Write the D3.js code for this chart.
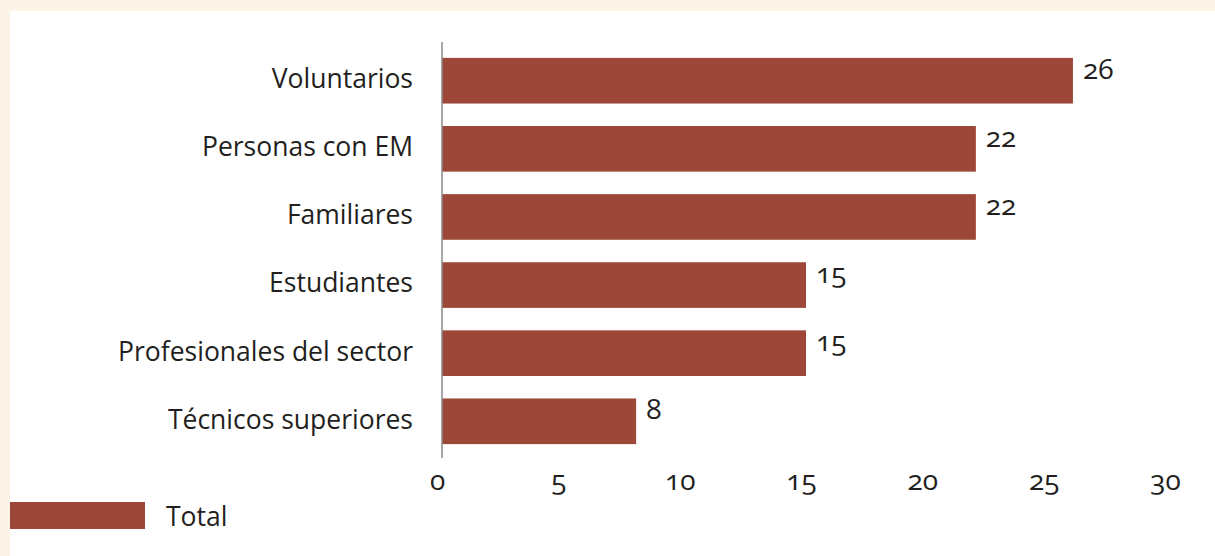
<!DOCTYPE html>
<html>
<head>
<meta charset="utf-8">
<script src="https://cdn.jsdelivr.net/npm/d3@7"></script>
<style>
  html, body { margin: 0; padding: 0; background: #fdf4e8; }
  svg { display: block; }
  .num { font-variant-numeric: oldstyle-nums; font-feature-settings: "onum" 1; }
</style>
</head>
<body>
<svg id="chart" width="1215" height="556"></svg>
<script>
// Participantes por perfil
const categories = ["Voluntarios", "Personas con EM", "Familiares", "Estudiantes", "Profesionales del sector", "Técnicos superiores"];
const values = [26, 22, 22, 15, 15, 8];
const tickValues = [0, 5, 10, 15, 20, 25, 30];
const seriesName = "Total";

const barColor = "#9c4738";
const textColor = "#231f20";
const font = "'Open Sans', sans-serif";

const svg = d3.select("#chart");

// panel
svg.append("rect").attr("x", 10).attr("y", 11).attr("width", 1205).attr("height", 545).attr("fill", "#ffffff");

const x = d3.scaleLinear().domain([0, 30]).range([442, 1170]);
const y = d3.scaleBand().domain(categories).range([47, 455]).paddingInner(0.33).paddingOuter(0.16);

// bars
svg.append("g").selectAll("rect").data(categories).join("rect")
  .attr("x", x(0))
  .attr("y", d => y(d))
  .attr("width", (d, i) => x(values[i]) - x(0))
  .attr("height", y.bandwidth())
  .attr("fill", barColor);

// category axis
const yAxis = svg.append("g").attr("transform", `translate(${x(0)},0)`)
  .call(d3.axisLeft(y).tickSize(0).tickPadding(29));
yAxis.select(".domain").remove();
yAxis.selectAll("text").attr("font-family", font).attr("font-size", 26.5).attr("fill", textColor).attr("dy", "0.28em");
svg.append("line").attr("x1", x(0)).attr("x2", x(0)).attr("y1", 42).attr("y2", 458)
  .attr("stroke", "#8a8a8a").attr("stroke-width", 1.5);

// value axis labels
const xAxis = svg.append("g").attr("transform", "translate(-5,466)")
  .call(d3.axisBottom(x).tickValues(tickValues).tickSize(0).tickPadding(4));
xAxis.select(".domain").remove();
xAxis.selectAll("text").attr("class", "num").attr("font-family", font).attr("font-size", 28).attr("fill", textColor);

// value labels
svg.append("g").selectAll("text").data(categories).join("text")
  .attr("class", "num")
  .attr("x", (d, i) => x(values[i]) + 10)
  .attr("y", d => y(d) + y.bandwidth() / 2 - 2)
  .attr("font-family", font).attr("font-size", 28).attr("fill", textColor)
  .text((d, i) => values[i]);

// legend
svg.append("rect").attr("x", 10).attr("y", 502).attr("width", 135).attr("height", 27).attr("fill", barColor);
svg.append("text").attr("x", 166).attr("y", 526).attr("font-family", font).attr("font-size", 26.5)
  .attr("fill", textColor).text(seriesName);
</script>
</body>
</html>
